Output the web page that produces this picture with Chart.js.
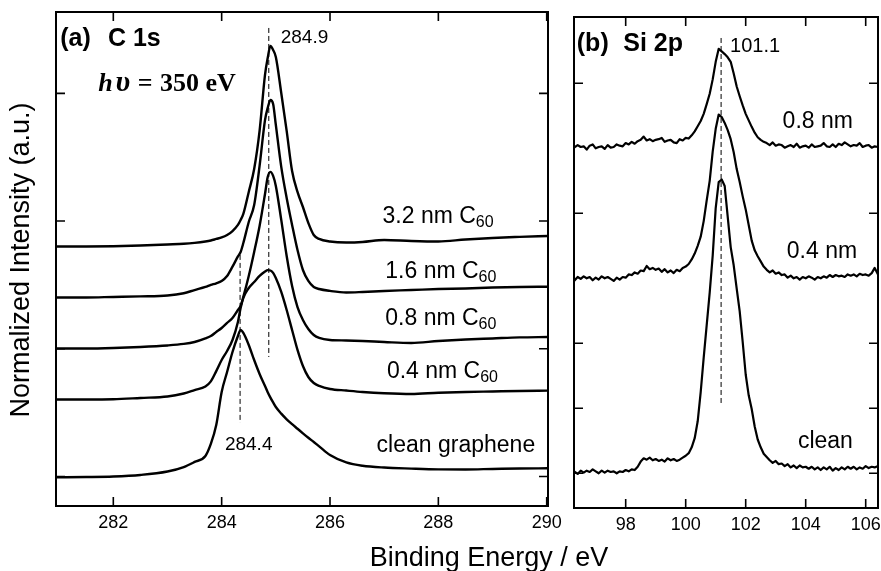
<!DOCTYPE html>
<html><head><meta charset="utf-8">
<script src="https://cdn.jsdelivr.net/npm/chart.js@4.4.0/dist/chart.umd.min.js"></script>
<style>
html,body{margin:0;padding:0;background:#fff;}
#wrap{position:relative;width:881px;height:571px;overflow:hidden;background:#fff;}
#c1{position:absolute;left:0;top:0;}
#c2{position:absolute;left:560px;top:0;}
</style></head><body>
<div id="wrap"><canvas id="c1" width="881" height="571"></canvas><canvas id="c2" width="321" height="571"></canvas></div>
<script>
// ---------- (a) C 1s data ----------
const c1sEnergy = [280.94, 281.5, 282.0, 282.5, 283.0, 283.3, 283.5, 283.7, 283.8, 283.9, 284.0, 284.1, 284.2, 284.3, 284.35, 284.4, 284.5, 284.6, 284.7, 284.8, 284.85, 284.9, 284.95, 285.0, 285.1, 285.2, 285.3, 285.4, 285.5, 285.6, 285.7, 285.8, 286.0, 286.3, 286.6, 287.0, 287.5, 288.0, 288.5, 289.0, 289.5, 290.02];
const c1s32nm = [18.01, 18.01, 18.03, 18.09, 18.17, 18.22, 18.29, 18.40, 18.48, 18.60, 18.72, 18.91, 19.22, 19.70, 20.09, 20.56, 22.28, 24.08, 27.06, 31.44, 32.77, 33.71, 33.40, 32.85, 30.03, 27.06, 23.92, 22.28, 21.10, 19.85, 18.91, 18.60, 18.40, 18.32, 18.36, 18.52, 18.44, 18.40, 18.56, 18.68, 18.76, 18.83];
const c1s16nm = [14.02, 14.02, 14.06, 14.10, 14.17, 14.35, 14.60, 14.84, 15.00, 15.13, 15.31, 15.70, 16.43, 17.23, 17.58, 18.28, 19.93, 21.26, 24.32, 27.90, 28.86, 29.48, 29.17, 27.53, 24.24, 21.81, 19.70, 17.73, 16.17, 15.31, 14.84, 14.68, 14.53, 14.41, 14.45, 14.53, 14.60, 14.68, 14.72, 14.80, 14.84, 14.86];
const c1s08nm = [10.02, 10.02, 10.06, 10.14, 10.26, 10.38, 10.53, 10.81, 11.00, 11.32, 11.63, 12.02, 12.41, 13.04, 13.35, 14.06, 15.70, 17.58, 19.62, 22.12, 23.45, 23.85, 23.54, 22.75, 20.09, 17.27, 14.92, 13.27, 12.26, 11.55, 11.08, 10.85, 10.69, 10.65, 10.61, 10.53, 10.45, 10.61, 10.73, 10.81, 10.89, 10.92];
const c1s04nm = [6.03, 6.03, 6.05, 6.15, 6.26, 6.50, 6.77, 7.05, 7.45, 8.25, 9.12, 9.83, 10.69, 12.10, 13.20, 13.98, 14.76, 15.23, 15.70, 16.05, 16.16, 16.13, 15.94, 15.54, 14.45, 13.04, 11.47, 9.91, 8.65, 7.79, 7.32, 7.09, 6.85, 6.73, 6.62, 6.52, 6.46, 6.56, 6.62, 6.66, 6.70, 6.72];
const c1sClean = [-0.06, -0.04, 0.00, 0.12, 0.39, 0.74, 1.14, 1.61, 2.55, 4.03, 6.62, 8.18, 9.75, 11.00, 11.47, 11.24, 10.30, 9.12, 8.03, 7.09, 6.60, 6.18, 5.80, 5.44, 4.92, 4.48, 4.10, 3.74, 3.38, 3.03, 2.70, 2.36, 1.68, 1.10, 0.84, 0.70, 0.62, 0.56, 0.55, 0.59, 0.63, 0.64];
const c1sTickValuesX = [282, 284, 286, 288, 290];
const c1sTickValuesY = [0, 10, 20, 30];
const c1sShiftedPeak = [{x: 284.87, y: 35.12}, {x: 284.87, y: 9.36}];
const c1sCleanPeak = [{x: 284.34, y: 17.35}, {x: 284.34, y: 4.19}];

// ---------- (b) Si 2p data ----------
const si2pEnergy = [96.28, 96.4, 96.5, 96.6, 96.7, 96.8, 96.9, 97.0, 97.1, 97.2, 97.3, 97.4, 97.5, 97.6, 97.7, 97.8, 97.9, 98.0, 98.1, 98.2, 98.3, 98.4, 98.5, 98.6, 98.7, 98.8, 98.9, 99.0, 99.1, 99.2, 99.3, 99.4, 99.5, 99.6, 99.7, 99.8, 99.9, 100.0, 100.1, 100.2, 100.3, 100.4, 100.5, 100.6, 100.7, 100.8, 100.9, 101.0, 101.1, 101.2, 101.3, 101.4, 101.5, 101.6, 101.7, 101.8, 101.9, 102.0, 102.1, 102.2, 102.3, 102.4, 102.5, 102.6, 102.7, 102.8, 102.9, 103.0, 103.1, 103.2, 103.3, 103.4, 103.5, 103.6, 103.7, 103.8, 103.9, 104.0, 104.1, 104.2, 104.3, 104.4, 104.5, 104.6, 104.7, 104.8, 104.9, 105.0, 105.1, 105.2, 105.3, 105.4, 105.5, 105.6, 105.7, 105.8, 105.9, 106.0, 106.1, 106.2, 106.3, 106.41];
const si08nm = [50.1, 50.5, 50.2, 50.3, 49.8, 50.4, 50.6, 50.0, 50.2, 50.3, 49.9, 50.5, 50.1, 50.2, 50.6, 50.4, 50.3, 50.8, 50.6, 51.0, 50.7, 51.1, 51.3, 51.8, 51.2, 51.4, 51.1, 51.3, 51.4, 51.6, 51.0, 51.2, 51.3, 50.9, 50.8, 51.4, 51.2, 51.6, 51.5, 52.0, 52.6, 53.4, 54.2, 55.3, 56.8, 58.4, 60.6, 63.3, 65.3, 64.9, 64.5, 64.0, 63.3, 61.5, 59.5, 58.0, 56.6, 55.3, 54.3, 53.3, 52.4, 51.7, 51.3, 51.0, 50.8, 50.5, 50.9, 50.4, 50.6, 50.5, 50.1, 50.3, 50.5, 50.2, 50.7, 50.1, 50.3, 50.4, 50.1, 50.6, 50.2, 50.3, 50.4, 50.8, 50.3, 50.2, 50.6, 50.2, 50.7, 50.5, 50.9, 50.6, 50.3, 50.5, 50.4, 50.8, 50.2, 50.4, 50.5, 50.1, 50.3, 50.2];
const si04nm = [29.6, 30.2, 29.9, 30.3, 30.0, 30.2, 29.7, 30.1, 29.8, 30.3, 30.0, 30.2, 29.9, 29.6, 30.1, 29.8, 30.2, 30.1, 30.6, 30.5, 30.9, 30.7, 31.2, 31.1, 31.9, 31.4, 31.6, 31.3, 31.5, 31.0, 31.4, 30.9, 31.2, 30.8, 31.3, 31.1, 31.6, 31.8, 32.2, 32.9, 33.8, 35.0, 36.4, 38.8, 42.0, 45.0, 49.5, 53.0, 55.2, 54.8, 53.9, 52.8, 51.4, 49.4, 46.8, 44.8, 42.6, 40.6, 38.2, 35.8, 34.3, 33.4, 32.6, 31.8, 31.3, 30.9, 31.2, 30.7, 30.9, 30.5, 30.6, 30.1, 30.4, 30.0, 30.2, 29.8, 30.2, 30.0, 30.3, 30.1, 29.8, 30.2, 30.0, 30.3, 30.1, 30.5, 30.2, 30.5, 30.3, 30.4, 30.2, 30.6, 30.4, 30.6, 30.3, 30.7, 30.5, 30.6, 30.4, 30.8, 31.6, 30.6];
const siClean = [0.3, -0.1, 0.4, 0.1, 0.4, 0.2, 0.6, 0.3, 0.0, 0.4, 0.1, 0.4, 0.2, 0.3, 0.0, 0.3, 0.2, 0.5, 0.3, 0.6, 0.5, 1.0, 1.8, 2.3, 2.1, 2.4, 2.0, 2.2, 1.9, 2.1, 1.8, 2.3, 2.0, 2.2, 1.9, 2.1, 2.4, 2.7, 3.1, 4.0, 5.4, 8.0, 12.5, 17.8, 22.8, 27.8, 33.5, 40.8, 44.8, 45.2, 44.2, 39.5, 34.8, 32.0, 28.4, 24.9, 20.2, 15.2, 12.0, 9.9, 7.2, 5.2, 4.0, 3.0, 2.5, 2.0, 1.6, 1.9, 1.4, 1.5, 1.1, 1.4, 0.9, 1.2, 0.8, 1.2, 0.9, 1.0, 0.7, 1.0, 0.6, 0.9, 0.5, 0.9, 0.6, 1.0, 0.4, 0.8, 0.5, 0.9, 0.6, 1.0, 0.7, 1.0, 0.6, 0.9, 0.7, 1.1, 0.8, 1.0, 0.9, 1.1];
const si2pTickValuesX = [98, 100, 102, 104, 106];
const si2pTickValuesY = [0, 10, 20, 40, 60];
const si2pPeak = [{x: 101.18, y: 66.97}, {x: 101.18, y: 10.66}];

// ---------- helpers ----------
const SANS = "'Liberation Sans', Arial, Helvetica, sans-serif";
const SERIF = "'Liberation Serif', 'Times New Roman', serif";
Chart.defaults.font.family = SANS;
const pts = (xs, ys) => xs.map((x, i) => ({x: x, y: ys[i]}));
const curve = (d, smooth, w) => ({data: d, showLine: true, borderColor: '#000', borderWidth: w, pointRadius: 0,
  fill: false, cubicInterpolationMode: smooth ? 'monotone' : 'default', tension: 0, borderJoinStyle: 'round'});
const dashed = d => ({data: d, showLine: true, borderColor: '#000', borderWidth: 1, pointRadius: 0, borderDash: [5, 3], fill: false});

function drawLabel(ctx, chart, L) {
  const px = chart.scales.x.getPixelForValue(L.x);
  const py = chart.scales.y.getPixelForValue(L.y);
  ctx.font = L.font;
  ctx.textAlign = 'left';
  ctx.textBaseline = 'alphabetic';
  ctx.fillStyle = '#000';
  ctx.fillText(L.t, px, py);
  if (L.sub) {
    const w = ctx.measureText(L.t).width;
    ctx.font = L.subFont;
    ctx.fillText(L.sub, px + w, py + 4);
  }
}

const framePlugin = {
  id: 'frame',
  afterDatasetsDraw(chart, args, o) {
    const {ctx, chartArea: a} = chart;
    const x = chart.scales.x, y = chart.scales.y;
    ctx.save();
    ctx.strokeStyle = '#000';
    ctx.lineWidth = 2;
    ctx.strokeRect(a.left, a.top, a.right - a.left, a.bottom - a.top);
    ctx.lineWidth = 1.6;
    ctx.beginPath();
    o.xt.forEach(v => {
      const p = x.getPixelForValue(v);
      ctx.moveTo(p, a.bottom); ctx.lineTo(p, a.bottom - o.len);
      ctx.moveTo(p, a.top); ctx.lineTo(p, a.top + o.len);
    });
    o.yt.forEach(v => {
      const p = y.getPixelForValue(v);
      ctx.moveTo(a.left, p); ctx.lineTo(a.left + o.len, p);
      ctx.moveTo(a.right, p); ctx.lineTo(a.right - o.len, p);
    });
    ctx.stroke();
    (o.labels || []).forEach(L => drawLabel(ctx, chart, L));
    if (o.titles) {
      ctx.fillStyle = '#000';
      ctx.font = '27px ' + SANS;
      ctx.textAlign = 'center';
      ctx.textBaseline = 'alphabetic';
      ctx.fillText('Binding Energy / eV', 489, 566);
      ctx.save();
      ctx.translate(28.5, (a.top + a.bottom) / 2 + 1);
      ctx.rotate(-Math.PI / 2);
      ctx.fillText('Normalized Intensity (a.u.)', 0, 0);
      ctx.restore();
    }
    ctx.restore();
  }
};

const LBL = '23px ' + SANS, SUB = '16px ' + SANS, BOLD = 'bold 25px ' + SANS;
const c1sLabels = [
  {t: '(a)', x: 281.02, y: 33.67, font: BOLD},
  {t: 'C 1s', x: 281.90, y: 33.67, font: BOLD},
  {t: 'h', x: 281.72, y: 30.19, font: 'italic bold 26px ' + SERIF},
  {t: '\u03C5', x: 282.04, y: 30.19, font: 'italic bold 30px ' + SERIF},
  {t: '=', x: 282.45, y: 30.19, font: 'bold 26px ' + SERIF},
  {t: '350 eV', x: 282.86, y: 30.19, font: 'bold 26px ' + SERIF},
  {t: '284.9', x: 285.09, y: 33.97, font: '19px ' + SANS},
  {t: '284.4', x: 284.06, y: 2.08, font: '19px ' + SANS},
  {t: '3.2 nm C', sub: '60', x: 286.97, y: 19.83, font: LBL, subFont: SUB},
  {t: '1.6 nm C', sub: '60', x: 287.02, y: 15.52, font: LBL, subFont: SUB},
  {t: '0.8 nm C', sub: '60', x: 287.02, y: 11.86, font: LBL, subFont: SUB},
  {t: '0.4 nm C', sub: '60', x: 287.05, y: 7.69, font: LBL, subFont: SUB},
  {t: 'clean graphene', x: 286.86, y: 1.94, font: LBL}
];
const si2pLabels = [
  {t: '(b)', x: 96.37, y: 64.97, font: BOLD},
  {t: 'Si 2p', x: 97.92, y: 64.97, font: BOLD},
  {t: '101.1', x: 101.48, y: 64.86, font: '20px ' + SANS},
  {t: '0.8 nm', x: 103.23, y: 53.08, font: LBL},
  {t: '0.4 nm', x: 103.37, y: 33.08, font: LBL},
  {t: 'clean', x: 103.74, y: 3.85, font: LBL}
];

function xScale(min, max, ticks, h, pad) {
  return {type: 'linear', position: 'bottom', min: min, max: max,
    afterBuildTicks: s => { s.ticks = ticks.map(v => ({value: v})); },
    afterFit: s => { s.height = h; s.paddingLeft = 0; s.paddingRight = 0; },
    grid: {display: false, drawTicks: false}, border: {display: false},
    ticks: {color: '#000', font: {size: 18, family: SANS}, padding: pad, maxRotation: 0, minRotation: 0, autoSkip: false}};
}
function yScale(min, max, w) {
  return {type: 'linear', position: 'left', min: min, max: max,
    afterFit: s => { s.width = w; s.paddingTop = 0; s.paddingBottom = 0; },
    grid: {display: false, drawTicks: false}, border: {display: false},
    ticks: {display: false}};
}
const common = {responsive: false, animation: false, events: [],
  plugins: {legend: {display: false}, tooltip: {enabled: false}}};

new Chart(document.getElementById('c1'), {
  type: 'scatter',
  data: {datasets: [
    dashed(c1sShiftedPeak), dashed(c1sCleanPeak),
    curve(pts(c1sEnergy, c1s32nm), true, 2.4),
    curve(pts(c1sEnergy, c1s16nm), true, 2.4),
    curve(pts(c1sEnergy, c1s08nm), true, 2.4),
    curve(pts(c1sEnergy, c1s04nm), true, 2.4),
    curve(pts(c1sEnergy, c1sClean), true, 2.4)
  ]},
  options: Object.assign({}, common, {
    layout: {padding: {left: 0, top: 12, right: 333, bottom: 0}},
    scales: {x: xScale(280.942, 290.024, c1sTickValuesX, 65, 6), y: yScale(-2.31, 36.37, 56)},
    plugins: Object.assign({}, common.plugins, {frame: {xt: c1sTickValuesX, yt: c1sTickValuesY, len: 9, labels: c1sLabels, titles: true}})
  }),
  plugins: [framePlugin]
});

new Chart(document.getElementById('c2'), {
  type: 'scatter',
  data: {datasets: [
    dashed(si2pPeak),
    curve(pts(si2pEnergy, si08nm), false, 2.2),
    curve(pts(si2pEnergy, si04nm), false, 2.2),
    curve(pts(si2pEnergy, siClean), false, 2.2)
  ]},
  options: Object.assign({}, common, {
    layout: {padding: {left: 0, top: 17, right: 3, bottom: 0}},
    scales: {x: xScale(96.277, 106.41, si2pTickValuesX, 63, 6), y: yScale(-5.34, 70.2, 14)},
    plugins: Object.assign({}, common.plugins, {frame: {xt: si2pTickValuesX, yt: si2pTickValuesY, len: 9, labels: si2pLabels, titles: false}})
  }),
  plugins: [framePlugin]
});
</script>
</body></html>
